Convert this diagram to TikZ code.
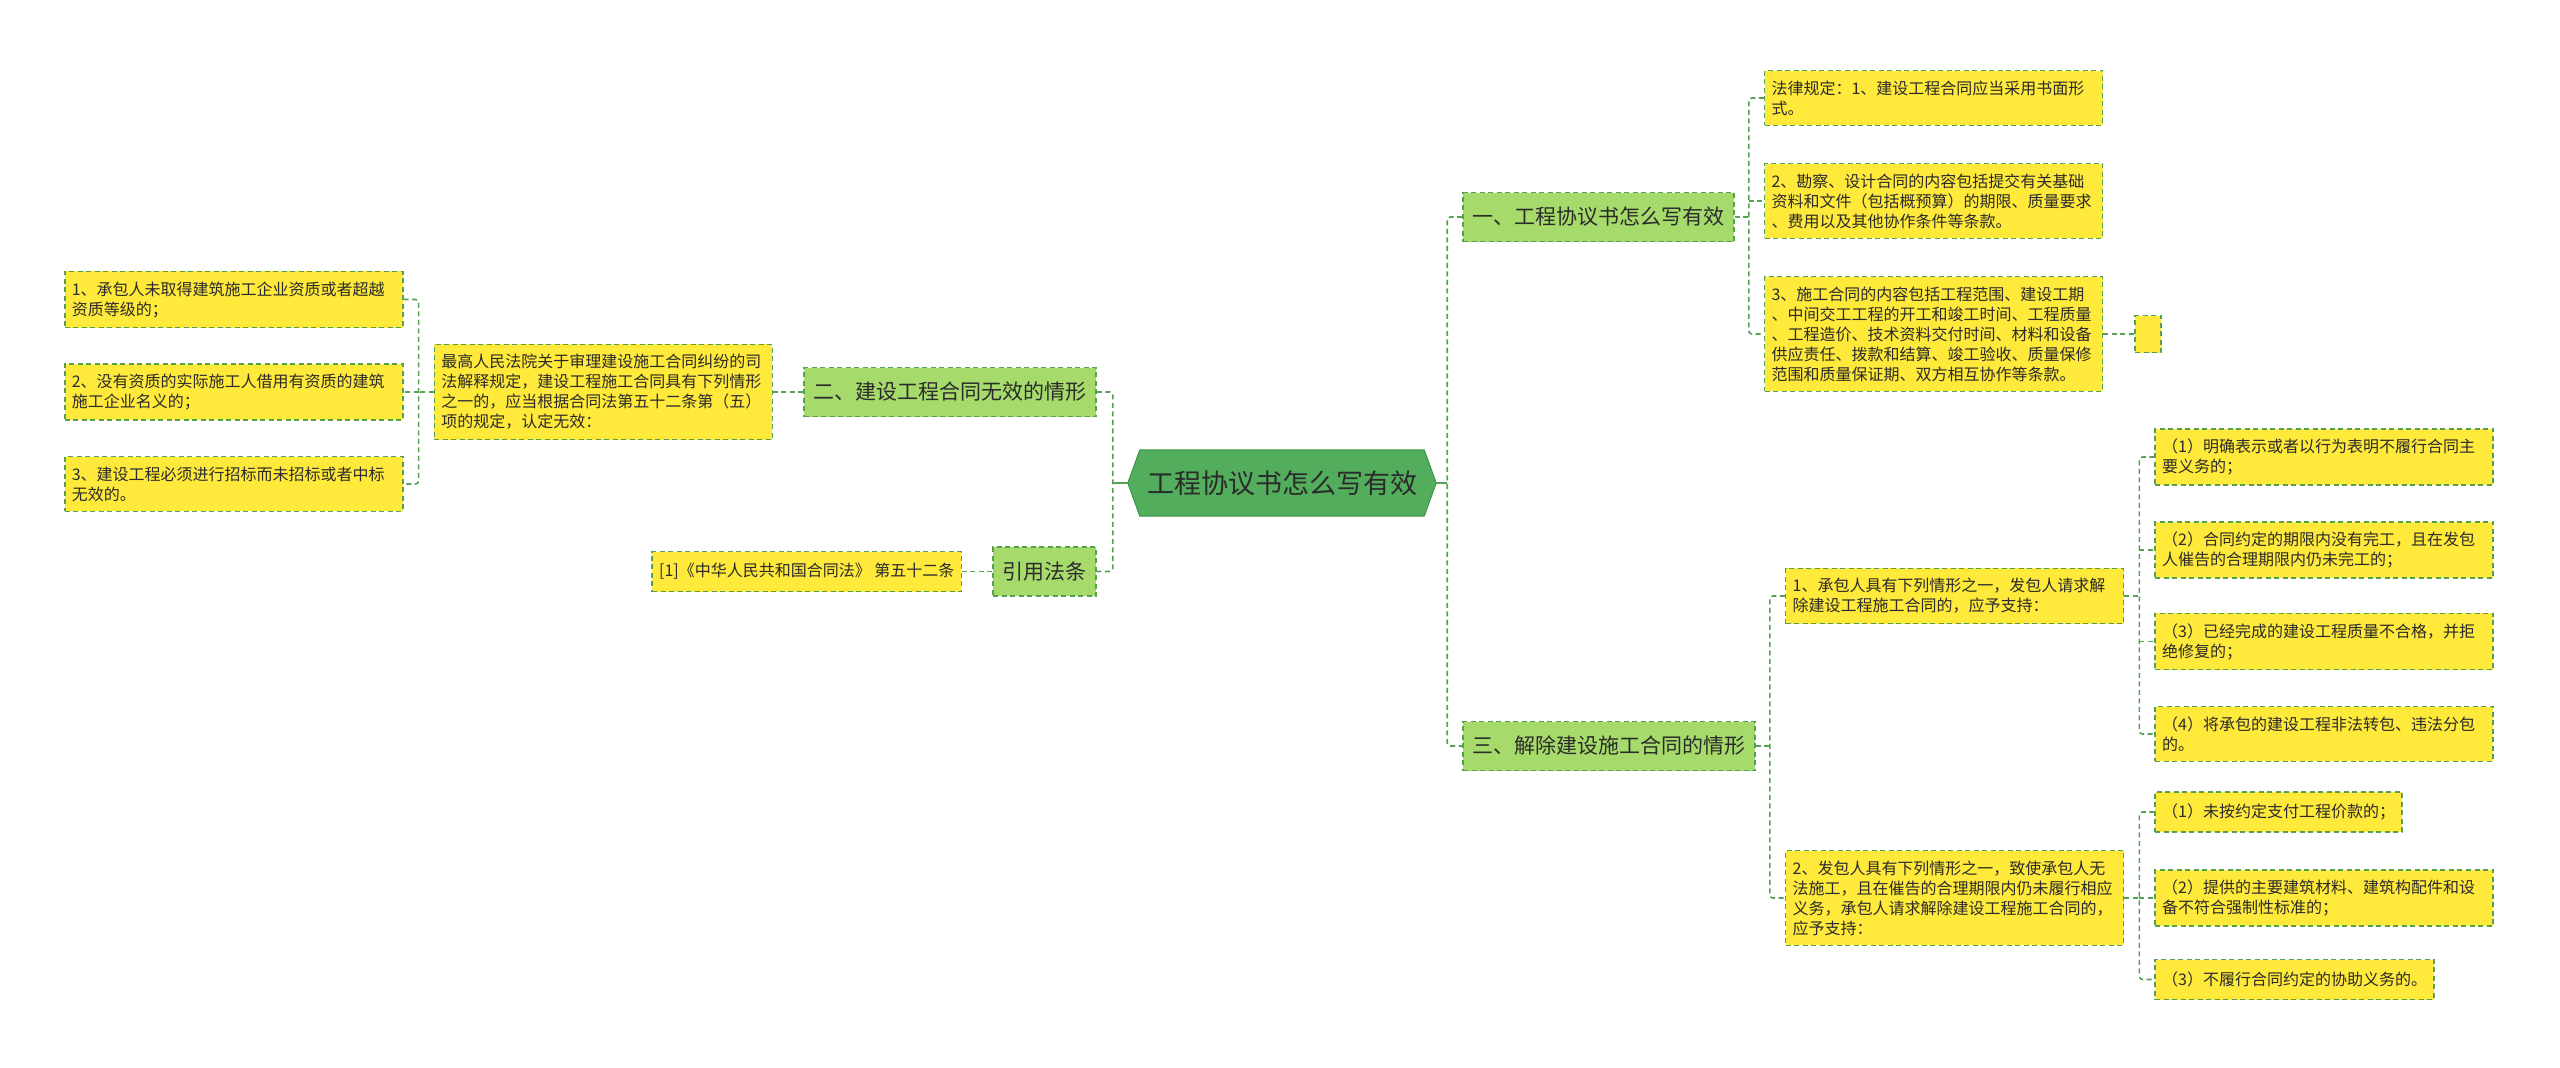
\documentclass[tikz,border=0pt]{standalone}
\usepackage{fontspec}
\setmainfont{Noto Sans CJK SC}
\usepackage{xcolor}
\usepackage{tikz}
\usetikzlibrary{positioning, backgrounds, calc}

\definecolor{leafyellow}{HTML}{FFE93B}
\definecolor{branchgreen}{HTML}{A6DA6A}
\definecolor{rootgreen}{HTML}{52AE5C}
\definecolor{rootedge}{HTML}{3F9449}
\definecolor{linegreen}{HTML}{56A151}
\definecolor{inkdark}{HTML}{2B2B2B}

\begin{document}
\begin{tikzpicture}[
  x=1pt, y=1pt,
  rootbox/.style = {rectangle, minimum width=284pt, minimum height=66pt, inner sep=0pt,
                    font=\fontsize{27}{32}\selectfont, text=inkdark},
  rootshape/.style = {fill=rootgreen, draw=rootedge, line width=1pt},
  branch/.style  = {rectangle, draw=linegreen, fill=branchgreen, line width=1.6pt,
                    dash pattern=on 5pt off 3.5pt, minimum height=49pt, inner xsep=9.5pt,
                    font=\fontsize{21}{25}\selectfont, text=inkdark},
  leaf/.style    = {rectangle, draw=linegreen, fill=leafyellow, line width=1.6pt,
                    dash pattern=on 5pt off 3.5pt, minimum height=40pt,
                    inner xsep=7pt, inner ysep=10pt, align=left,
                    font=\fontsize{16}{20}\selectfont, text=inkdark},
  wide/.style    = {leaf, text width=324pt},
  link/.style    = {draw=linegreen, line width=1.6pt, dash pattern=on 5pt off 3.5pt,
                    rounded corners=3pt},
  stem/.style    = {draw=linegreen, line width=2pt}
]
\useasboundingbox (0,0) rectangle (2560,-1068);

% ── Root ─────────────────────────────────────────────────────────────────────
\node[rootbox] (root) at (1282,-483) {工程协议书怎么写有效};
\coordinate (rtip) at ($(root.east)+(12,0)$);
\coordinate (ltip) at ($(root.west)+(-12,0)$);
\begin{scope}[on background layer]
  \path[rootshape] (ltip) -- (root.north west) -- (root.north east) -- (rtip)
        -- (root.south east) -- (root.south west) -- cycle;
\end{scope}

% ── Main branches ────────────────────────────────────────────────────────────
\node[branch, right=38pt of root.east, yshift=266pt]  (n1) {一、工程协议书怎么写有效};
\node[branch, right=38pt of root.east, yshift=-263pt] (n3) {三、解除建设施工合同的情形};
\node[branch, left=43pt of root.west, yshift=91pt]    (n2) {二、建设工程合同无效的情形};
\node[branch, left=43pt of root.west, yshift=-88.5pt] (n4) {引用法条};

% ── Branch one: leaves ───────────────────────────────────────────────────────
\node[wide, right=29pt of n1.east, yshift=119pt] (r1)
  {法律规定：1、建设工程合同应当采用书面形\\式。};
\node[wide, right=29pt of n1.east, yshift=16pt] (r2)
  {2、勘察、设计合同的内容包括提交有关基础\\资料和文件（包括概预算）的期限、质量要求\\、费用以及其他协作条件等条款。};
\node[wide, right=29pt of n1.east, yshift=-117pt] (r3)
  {3、施工合同的内容包括工程范围、建设工期\\、中间交工工程的开工和竣工时间、工程质量\\、工程造价、技术资料交付时间、材料和设备\\供应责任、拨款和结算、竣工验收、质量保修\\范围和质量保证期、双方相互协作等条款。};
\node[leaf, right=31pt of r3.east, minimum width=26pt, minimum height=37pt, inner sep=0pt] (blank) {};

% ── Branch three: leaves ─────────────────────────────────────────────────────
\node[wide, right=29pt of n3.east, yshift=150pt] (r4)
  {1、承包人具有下列情形之一，发包人请求解\\除建设工程施工合同的，应予支持：};
\node[wide, right=29pt of n3.east, yshift=-152pt] (r5)
  {2、发包人具有下列情形之一，致使承包人无\\法施工，且在催告的合理期限内仍未履行相应\\义务，承包人请求解除建设工程施工合同的，\\应予支持：};

\node[wide, right=30pt of r4.east, yshift=139pt] (r4a)
  {（1）明确表示或者以行为表明不履行合同主\\要义务的；};
\node[wide, right=30pt of r4.east, yshift=46pt] (r4b)
  {（2）合同约定的期限内没有完工，且在发包\\人催告的合理期限内仍未完工的；};
\node[wide, right=30pt of r4.east, yshift=-45.5pt] (r4c)
  {（3）已经完成的建设工程质量不合格，并拒\\绝修复的；};
\node[wide, right=30pt of r4.east, yshift=-138pt] (r4d)
  {（4）将承包的建设工程非法转包、违法分包\\的。};

\node[leaf, right=30pt of r5.east, yshift=86pt] (r5a) {（1）未按约定支付工程价款的；};
\node[wide, right=30pt of r5.east, yshift=0pt] (r5b)
  {（2）提供的主要建筑材料、建筑构配件和设\\备不符合强制性标准的；};
\node[leaf, right=30pt of r5.east, yshift=-81.5pt] (r5c) {（3）不履行合同约定的协助义务的。};

% ── Branch two: leaves ───────────────────────────────────────────────────────
\node[wide, left=30pt of n2.west] (n2d)
  {最高人民法院关于审理建设施工合同纠纷的司\\法解释规定，建设工程施工合同具有下列情形\\之一的，应当根据合同法第五十二条第（五）\\项的规定，认定无效：};
\node[wide, left=30pt of n2d.west, yshift=92.5pt] (l1)
  {1、承包人未取得建筑施工企业资质或者超越\\资质等级的；};
\node[wide, left=30pt of n2d.west] (l2)
  {2、没有资质的实际施工人借用有资质的建筑\\施工企业名义的；};
\node[wide, left=30pt of n2d.west, yshift=-92pt] (l3)
  {3、建设工程必须进行招标而未招标或者中标\\无效的。};

% ── Citation ─────────────────────────────────────────────────────────────────
\node[leaf, left=30pt of n4.west] (cite) {[1]《中华人民共和国合同法》 第五十二条};

% ── Connectors from root ─────────────────────────────────────────────────────
\coordinate (rjoint) at ($(rtip)+(11,0)$);
\coordinate (ljoint) at ($(ltip)+(-15,0)$);
\draw[stem] (rtip) -- (rjoint);
\draw[stem] (ltip) -- (ljoint);
\draw[link] (n1.west) -| (rjoint) |- (n3.west);
\draw[link] (n2.east) -| (ljoint) |- (n4.east);

% ── Connectors, right side ───────────────────────────────────────────────────
\coordinate (j1) at ($(n1.east)+(14,0)$);
\draw[link] (n1.east) -- (j1);
\draw[link] (r1.west) -| (j1) |- (r3.west);
\draw[link] (j1 |- r2.west) -- (r2.west);
\draw[link] (r3.east) -- (blank.west);

\coordinate (j3) at ($(n3.east)+(14,0)$);
\draw[link] (n3.east) -- (j3);
\draw[link] (r4.west) -| (j3) |- (r5.west);

\coordinate (j4) at ($(r4.east)+(15,0)$);
\draw[link] (r4.east) -- (j4);
\draw[link] (r4a.west) -| (j4) |- (r4d.west);
\draw[link] (j4 |- r4b.west) -- (r4b.west);
\draw[link] (j4 |- r4c.west) -- (r4c.west);

\coordinate (j5) at ($(r5.east)+(15,0)$);
\draw[link] (r5.east) -- (j5);
\draw[link] (r5a.west) -| (j5) |- (r5c.west);
\draw[link] (j5 |- r5b.west) -- (r5b.west);

% ── Connectors, left side ────────────────────────────────────────────────────
\draw[link] (n2.west) -- (n2d.east);
\coordinate (j2) at ($(n2d.west)+(-15,0)$);
\draw[link] (n2d.west) -- (j2);
\draw[link] (l1.east) -| (j2) |- (l3.east);
\draw[link] (j2 |- l2.east) -- (l2.east);
\draw[link] (n4.west) -- (cite.east);
\end{tikzpicture}
\end{document}
